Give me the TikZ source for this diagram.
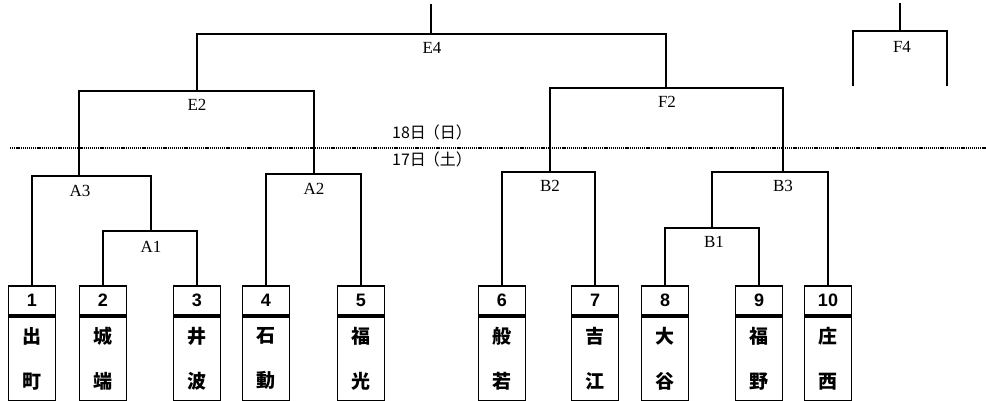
\documentclass[tikz,border=0pt]{standalone}
\usepackage{fontspec}
\setmainfont{Liberation Serif}
\newfontfamily\numfont{Liberation Sans}
\newfontfamily\jp{Noto Sans CJK JP}
\begin{document}
\begin{tikzpicture}[x=1pt,y=-1pt,
  line/.style={line width=1.8pt,line join=miter},
  numcell/.style={draw,line width=1.8pt,minimum width=47pt,minimum height=29pt,inner sep=0pt,
    anchor=north,font=\numfont\bfseries\fontsize{18}{18}\selectfont},
  namecell/.style={draw,line width=1.8pt,minimum width=47pt,minimum height=84pt,inner sep=0pt,
    anchor=north,align=center,font=\jp\bfseries\fontsize{19}{45}\selectfont},
  rlabel/.style={font=\fontsize{17}{17}\selectfont,inner sep=0pt},
  dlabel/.style={font=\jp\fontsize{16}{16}\selectfont,inner sep=0pt}]
\useasboundingbox[fill=white] (0,0) rectangle (986,400);
% team boxes
\foreach \i/\x/\a/\b in {1/32/出/町,2/103/城/端,3/197/井/波,4/266/石/動,5/361/福/光,
                         6/502/般/若,7/595/吉/江,8/665/大/谷,9/759/福/野,10/828/庄/西}{
  \node[numcell] (n\i) at (\x,285) {\i};
  \node[namecell] (m\i) at (n\i.south) {\a\\\b};
}
% junctions
\coordinate (a1) at (151,231);
\coordinate (a3) at (79,176);
\coordinate (a2) at (314,174);
\coordinate (e2) at (197,91);
\coordinate (b2) at (550,172);
\coordinate (b1) at (712,228);
\coordinate (b3) at (783,172);
\coordinate (f2) at (666,88);
\coordinate (e4) at (431,34);
\coordinate (e4top) at (431,4);
\coordinate (f4) at (900,31);
\coordinate (f4top) at (900,3);
\coordinate (f4l) at (853,86);
\coordinate (f4r) at (947,86);
% brackets
\draw[line] (n2.north) |- (a1) -| (n3.north);
\draw[line] (n1.north) |- (a3) -| (a1);
\draw[line] (n4.north) |- (a2) -| (n5.north);
\draw[line] (a3) |- (e2) -| (a2);
\draw[line] (n6.north) |- (b2) -| (n7.north);
\draw[line] (n8.north) |- (b1) -| (n9.north);
\draw[line] (b1) |- (b3) -| (n10.north);
\draw[line] (b2) |- (f2) -| (b3);
\draw[line] (e2) |- (e4) -| (f2);
\draw[line] (e4) -- (e4top);
\draw[line] (f4l) |- (f4) -| (f4r);
\draw[line] (f4) -- (f4top);
% labels
\node[rlabel] (le4) at (432,48) {E4};
\node[rlabel] (lf4) at (902,47) {F4};
\node[rlabel] (le2) at (197,105) {E2};
\node[rlabel] (lf2) at (667,102) {F2};
\node[rlabel] (la3) at (80,191) {A3};
\node[rlabel] (la1) at (151,247) {A1};
\node[rlabel] (la2) at (314,189) {A2};
\node[rlabel] (lb2) at (550,186) {B2};
\node[rlabel] (lb3) at (783,186) {B3};
\node[rlabel] (lb1) at (714,242) {B1};
% day divider
\coordinate (dl) at (10,148);
\coordinate (dr) at (986,148);
\draw[line width=1.6pt,dash pattern=on 1.2pt off 0.9pt] (dl) -- (dr);
\node[dlabel] (d18) at (432,132) {18日\kern-2pt（日）};
\node[dlabel] (d17) at (432,159) {17日\kern-2pt（土）};
\end{tikzpicture}
\end{document}
